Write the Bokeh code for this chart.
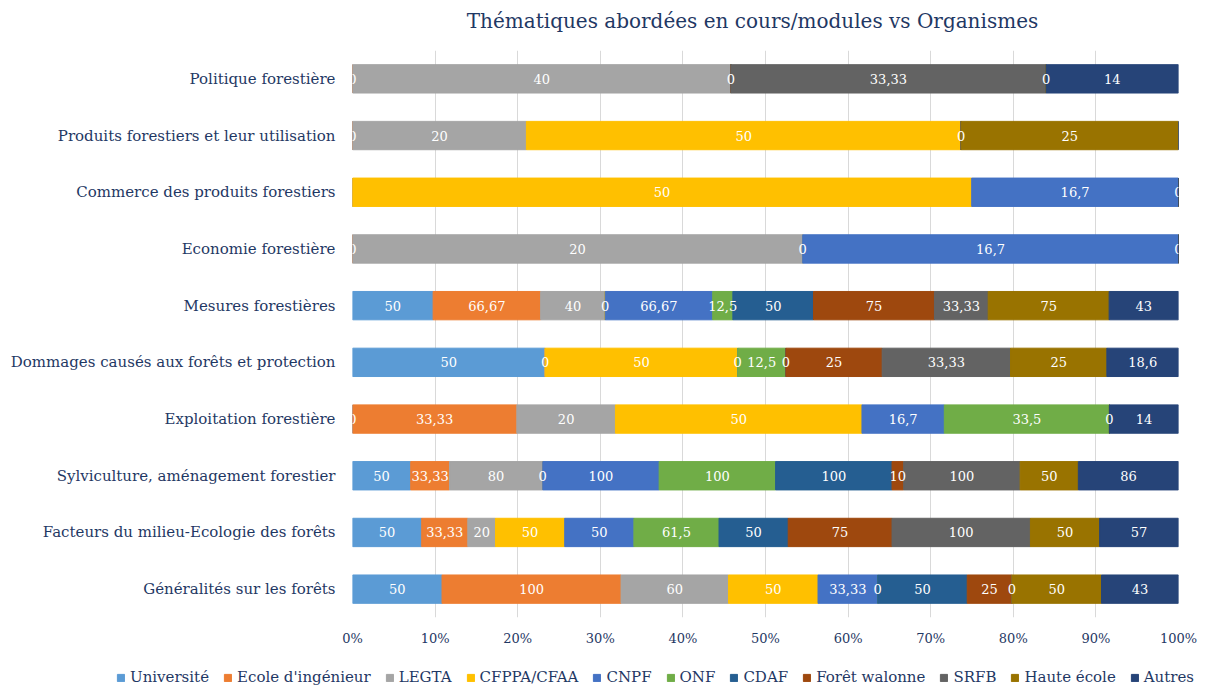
import numpy as np
from bokeh.plotting import figure
from bokeh.layouts import column
from bokeh.models import (ColumnDataSource, FactorRange, Range1d, FixedTicker,
                          NumeralTickFormatter, Legend, LegendItem, Label)
from bokeh.core.properties import value
from bokeh.embed import file_html
from bokeh.resources import INLINE

nan = float("nan")

title_text = "Thématiques abordées en cours/modules vs Organismes"

# categories, bottom to top
categories = [
    "Généralités sur les forêts",
    "Facteurs du milieu-Ecologie des forêts",
    "Sylviculture, aménagement forestier",
    "Exploitation forestière",
    "Dommages causés aux forêts et protection",
    "Mesures forestières",
    "Economie forestière",
    "Commerce des produits forestiers",
    "Produits forestiers et leur utilisation",
    "Politique forestière",
]

series = ["Université", "Ecole d'ingénieur", "LEGTA", "CFPPA/CFAA", "CNPF", "ONF",
          "CDAF", "Forêt walonne", "SRFB", "Haute école", "Autres"]

universite = [50, 50, 50, 0, 50, 50, 0, nan, 0, 0]
ecole_ing = [100, 33.33, 33.33, 33.33, 0, 66.67, nan, nan, nan, nan]
legta = [60, 20, 80, 20, nan, 40, 20, nan, 20, 40]
cfppa = [50, 50, 0, 50, 50, 0, 0, 50, 50, 0]
cnpf = [33.33, 50, 100, 16.7, 0, 66.67, 16.7, 16.7, nan, nan]
onf = [0, 61.5, 100, 33.5, 12.5, 12.5, nan, nan, nan, nan]
cdaf = [50, 50, 100, 0, 0, 50, nan, nan, nan, nan]
foret_walonne = [25, 75, 10, nan, 25, 75, nan, nan, nan, nan]
srfb = [0, 100, 100, nan, 33.33, 33.33, nan, nan, 0, 33.33]
haute_ecole = [50, 50, 50, nan, 25, 75, nan, nan, 25, 0]
autres = [43, 57, 86, 14, 18.6, 43, 0, 0, nan, 14]

colors = ["#5B9BD5", "#ED7D31", "#A5A5A5", "#FFC000", "#4472C4", "#70AD47",
          "#255E91", "#9E480E", "#636363", "#997300", "#264478"]

x_ticks = [0, 0.1, 0.2, 0.3, 0.4, 0.5, 0.6, 0.7, 0.8, 0.9, 1.0]

NAVY = "#1F3864"
FONT = "DejaVu Serif"

all_series = [universite, ecole_ing, legta, cfppa, cnpf, onf, cdaf,
              foret_walonne, srfb, haute_ecole, autres]
vals = np.array(all_series, dtype=float)
widths = np.nan_to_num(vals)
totals = widths.sum(axis=0)
fracs = widths / totals

keys = [f"s{i}" for i in range(len(series))]
data = {"cat": categories}
for i, k in enumerate(keys):
    data[k] = fracs[i]
src = ColumnDataSource(data)

# ---- title strip ----
tf = figure(width=1200, height=40, output_backend="svg", toolbar_location=None,
            x_axis_location=None, y_axis_location=None, min_border=0,
            x_range=Range1d(0, 1200), y_range=Range1d(0, 40))
tf.outline_line_color = None
tf.grid.grid_line_color = None
tf.frame_align = False
tf.add_layout(Label(x=752, y=20, text=title_text, text_align="center",
                    text_baseline="middle", text_font=FONT,
                    text_font_size="20px", text_color=NAVY))

# ---- main chart ----
p = figure(y_range=FactorRange(*categories), x_range=Range1d(0, 1),
           width=1200, height=615, output_backend="svg", toolbar_location=None,
           min_border_left=352, min_border_right=22, min_border_top=10,
           min_border_bottom=38)
p.frame_align = False

rends = p.hbar_stack(keys, y="cat", height=0.5, color=colors, source=src)

def fmt(v):
    return ("%g" % v).replace(".", ",")

lx, ly, lt = [], [], []
left = np.zeros(len(categories))
for i in range(len(series)):
    for j in range(len(categories)):
        if not np.isnan(vals[i, j]):
            lx.append(left[j] + fracs[i, j] / 2)
            ly.append(categories[j])
            lt.append(fmt(vals[i, j]))
    left = left + fracs[i]
lsrc = ColumnDataSource(dict(x=lx, y=ly, text=lt))
p.text(x="x", y="y", text="text", source=lsrc, text_color="white",
       text_align="center", text_baseline="middle",
       text_font=value(FONT), text_font_size="13px")

p.xaxis.ticker = FixedTicker(ticks=x_ticks)
p.xaxis.formatter = NumeralTickFormatter(format="0%")
p.xaxis.axis_line_color = None
p.xaxis.major_tick_line_color = None
p.xaxis.minor_tick_line_color = None
p.xaxis.major_label_text_font = FONT
p.xaxis.major_label_text_font_size = "13px"
p.xaxis.major_label_text_color = NAVY
p.xaxis.major_label_standoff = 7

p.yaxis.axis_line_color = None
p.yaxis.major_tick_line_color = None
p.yaxis.minor_tick_line_color = None
p.yaxis.major_label_text_font = FONT
p.yaxis.major_label_text_font_size = "15px"
p.yaxis.major_label_text_color = NAVY
p.yaxis.major_label_standoff = 11

p.ygrid.grid_line_color = None
p.xgrid.grid_line_color = "#D9D9D9"
p.xgrid.ticker = FixedTicker(ticks=x_ticks)
p.outline_line_color = None

# ---- legend strip ----
lg = figure(width=1200, height=32, output_backend="svg", toolbar_location=None,
            x_axis_location=None, y_axis_location=None, min_border=0,
            x_range=Range1d(0, 1), y_range=Range1d(0, 1))
lg.outline_line_color = None
lg.grid.grid_line_color = None
lg.frame_align = False
items = []
for s, c in zip(series, colors):
    r = lg.hbar(y=[0.5], left=[3], right=[4], height=0.5, color=c)
    items.append(LegendItem(label=s, renderers=[r]))
legend = Legend(items=items, orientation="horizontal", location=(116, 1),
                glyph_width=9, glyph_height=9, label_text_font=FONT,
                label_text_font_size="15px", label_text_color=NAVY,
                label_standoff=5, spacing=14, padding=0, margin=0,
                background_fill_alpha=0, border_line_color=None,
                label_height=16)
lg.add_layout(legend, "center")

layout = column(tf, p, lg, spacing=0)
open("out.html", "w").write(file_html(layout, INLINE))
